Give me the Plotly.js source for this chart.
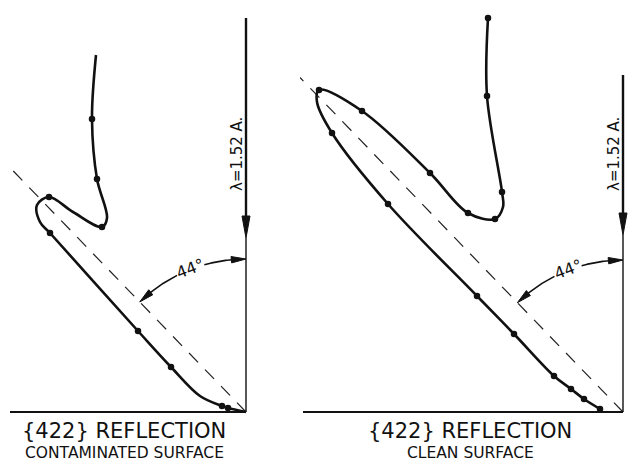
<!DOCTYPE html>
<html>
<head>
<meta charset="utf-8">
<script src="https://cdn.plot.ly/plotly-3.0.1.min.js"></script>
<style>html,body{margin:0;padding:0;background:#fff;}#chart{width:630px;height:464px;}</style>
</head>
<body>
<div id="chart"></div>
<script>
// ---- Data (polar diagram, cartesian offsets from the crystal origin; y up) ----
// Contaminated surface curve
const contamX = [-150, -154, -149, -139, -144, -173, -197, -209, -206, -196, -108, -75, -46, -24, -18, 0];
const contamY = [357, 293, 233, 194, 185, 200, 215, 207, 190, 179, 81, 45, 16, 6, 4, 0];
const contamMeasured = [0, 1, 1, 0, 1, 0, 1, 0, 0, 1, 1, 1, 0, 1, 1, 0];
// Clean surface curve
const cleanX = [-135, -136, -121, -120, -128, -155, -193, -261, -304, -306, -291, -235, -146, -109, -69, -52, -39, -23];
const cleanY = [394, 316, 220, 205, 193, 199, 239, 301, 322, 310, 279, 208, 116, 78, 36, 23, 13, 3];
const cleanMeasured = [1, 1, 1, 0, 1, 1, 1, 1, 1, 0, 1, 1, 1, 1, 1, 1, 1, 1];
// Annotations / geometry values
const angleDeg = 44;
const wavelengthLabel = "λ=1.52 A.";
const titles = ["{422} REFLECTION", "{422} REFLECTION"];
const subtitles = ["CONTAMINATED SURFACE", "CLEAN SURFACE"];
const beamTop = [394, 337];
const beamArrowTip = [174, 177];
const baseLeft = [-236, -320];
const dashLen = [335, 465];
const arcR = [153, 152];

// ---- helpers ----
const rad = d => d * Math.PI / 180;
const pol = (thDeg, r) => [-r * Math.sin(rad(thDeg)), r * Math.cos(rad(thDeg))];

function arcPts(a0, a1, r) {
  const xs = [], ys = [];
  const n = 30;
  for (let i = 0; i <= n; i++) {
    const p = pol(a0 + (a1 - a0) * i / n, r);
    xs.push(p[0]); ys.push(p[1]);
  }
  return [xs, ys];
}
function arcArrow(thTip, thBack, r, w) {
  const t = pol(thTip, r), b1 = pol(thBack, r - w), b2 = pol(thBack, r + w);
  return `M ${t[0]} ${t[1]} L ${b1[0]} ${b1[1]} L ${b2[0]} ${b2[1]} Z`;
}

const traces = [];
const shapes = [];
const annotations = [];
const panels = [
  {x: contamX, y: contamY, m: contamMeasured, xa: 'x', ya: 'y'},
  {x: cleanX, y: cleanY, m: cleanMeasured, xa: 'x2', ya: 'y2'}
];

panels.forEach((p, i) => {
  // dashed 44° line
  const d = pol(angleDeg, dashLen[i]);
  traces.push({x: [0, d[0]], y: [0, d[1]], xaxis: p.xa, yaxis: p.ya, mode: 'lines',
    line: {color: '#222', width: 1.2, dash: '13px,10px'}, hoverinfo: 'skip'});
  // curve
  traces.push({x: p.x, y: p.y, xaxis: p.xa, yaxis: p.ya, mode: 'lines',
    line: {color: '#111', width: 2.6, shape: 'spline', smoothing: 1}, hoverinfo: 'skip'});
  // measured points
  const mx = [], my = [];
  p.m.forEach((f, k) => { if (f) { mx.push(p.x[k]); my.push(p.y[k]); } });
  traces.push({x: mx, y: my, xaxis: p.xa, yaxis: p.ya, mode: 'markers',
    marker: {color: '#111', size: 6.5}, hoverinfo: 'skip'});
  // angle arc (with gap for label)
  const r = arcR[i];
  const s1 = arcPts(1.5, 15.8, r), s2 = arcPts(26.8, angleDeg - 2.5, r);
  [s1, s2].forEach(s => traces.push({x: s[0], y: s[1], xaxis: p.xa, yaxis: p.ya, mode: 'lines',
    line: {color: '#111', width: 1.6}, hoverinfo: 'skip'}));
  shapes.push({type: 'path', xref: p.xa, yref: p.ya, path: arcArrow(0, 5.5, r, 3.2),
    fillcolor: '#111', line: {color: '#111', width: 1}});
  shapes.push({type: 'path', xref: p.xa, yref: p.ya, path: arcArrow(angleDeg, angleDeg - 5.5, r, 3.2),
    fillcolor: '#111', line: {color: '#111', width: 1}});
  const lp = pol(21.3, r);
  annotations.push({xref: p.xa, yref: p.ya, x: lp[0], y: lp[1] + 1, text: '44°', showarrow: false,
    xanchor: 'center', yanchor: 'middle',
    textangle: -21, font: {family: 'DejaVu Sans', size: 16, color: '#111'}});
  // base line and beam line
  shapes.push({type: 'line', xref: p.xa, yref: p.ya, x0: baseLeft[i], x1: 0, y0: 0, y1: 0,
    line: {color: '#111', width: 2}});
  shapes.push({type: 'line', xref: p.xa, yref: p.ya, x0: 0, x1: 0, y0: 0, y1: beamArrowTip[i],
    line: {color: '#111', width: 1.4}});
  shapes.push({type: 'line', xref: p.xa, yref: p.ya, x0: 0, x1: 0, y0: beamArrowTip[i] + 10, y1: beamTop[i],
    line: {color: '#111', width: 2.4}});
  const tp = beamArrowTip[i];
  shapes.push({type: 'path', xref: p.xa, yref: p.ya, path: `M 0 ${tp} L -4 ${tp + 22} L 4 ${tp + 22} Z`,
    fillcolor: '#111', line: {color: '#111', width: 1}});
  // wavelength label
  annotations.push({xref: p.xa, yref: p.ya, x: -9, y: 258, text: wavelengthLabel, showarrow: false,
    xanchor: 'center', yanchor: 'middle',
    textangle: -90, font: {family: 'DejaVu Sans', size: 15, color: '#111'}});
});

// bottom captions
const capX = [124 / 630, 470 / 630];
[0, 1].forEach(i => {
  annotations.push({xref: 'paper', yref: 'paper', x: capX[i], y: 1 - 444.5 / 464, text: titles[i],
    xanchor: 'center', yanchor: 'bottom',
    showarrow: false, font: {family: 'DejaVu Sans', size: 21, color: '#111'}});
  annotations.push({xref: 'paper', yref: 'paper', x: capX[i], y: 0.001, text: subtitles[i],
    xanchor: 'center', yanchor: 'bottom',
    showarrow: false, font: {family: 'DejaVu Sans', size: 15.5, color: '#111'}});
});

const hidden = {showgrid: false, zeroline: false, showline: false, showticklabels: false, ticks: '', fixedrange: true};
const layout = {
  width: 630, height: 464,
  margin: {l: 0, r: 0, t: 0, b: 0},
  paper_bgcolor: '#fff', plot_bgcolor: 'rgba(0,0,0,0)',
  showlegend: false,
  xaxis: Object.assign({domain: [0, 300 / 630], range: [-246, 54]}, hidden),
  yaxis: Object.assign({domain: [0, 1], range: [-52, 412]}, hidden),
  xaxis2: Object.assign({domain: [300 / 630, 1], range: [-323, 7], anchor: 'y2'}, hidden),
  yaxis2: Object.assign({domain: [0, 1], range: [-52, 412], anchor: 'x2'}, hidden),
  shapes: shapes,
  annotations: annotations
};
Plotly.newPlot('chart', traces, layout, {displayModeBar: false, staticPlot: true});
</script>
</body>
</html>
